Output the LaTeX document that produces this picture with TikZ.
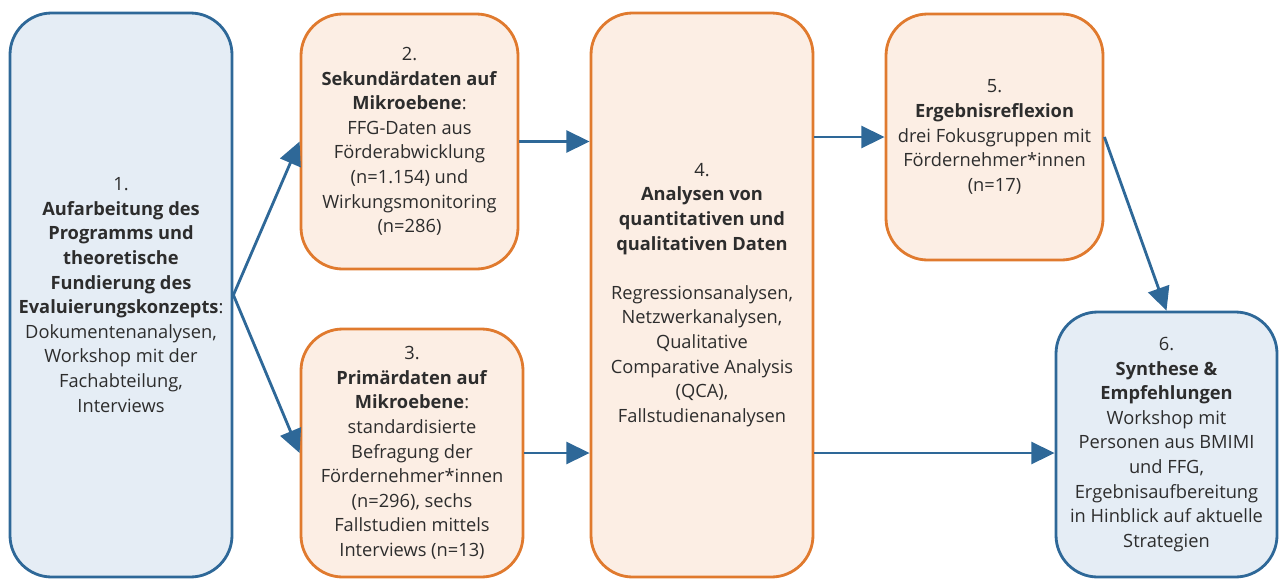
\documentclass[tikz,border=0pt]{standalone}
\usepackage{fontspec}
\setmainfont{Open Sans}
\usetikzlibrary{arrows.meta}

\definecolor{bluedraw}{RGB}{46,104,152}
\definecolor{bluefill}{RGB}{229,237,245}
\definecolor{orangedraw}{RGB}{224,122,46}
\definecolor{orangefill}{RGB}{252,238,228}
\definecolor{txt}{RGB}{45,45,45}

\begin{document}
\begin{tikzpicture}[
  font=\fontsize{15.6}{21}\selectfont,
  box/.style={draw, line width=2.4pt, rounded corners=1.25cm, align=center, text=txt, inner sep=2pt},
  bluebox/.style={box, draw=bluedraw, fill=bluefill},
  orangebox/.style={box, draw=orangedraw, fill=orangefill},
  arrow/.style={-{Triangle[length=7mm,width=6.6mm]}, line width=2.4pt, draw=bluedraw}
]

\useasboundingbox (0,0) rectangle (38.37,-17.34);

\node[bluebox, minimum width=6.66cm, minimum height=16.92cm] (prog) at (3.63,-8.85)
  {1.\\\textbf{Aufarbeitung des}\\\textbf{Programms und}\\\textbf{theoretische}\\\textbf{Fundierung des}\\\textbf{Evaluierungskonzepts}:\\Dokumentenanalysen,\\Workshop mit der\\Fachabteilung,\\Interviews};

\node[orangebox, minimum width=6.51cm, minimum height=7.65cm] (sek) at (12.285,-4.245)
  {2.\\\textbf{Sekundärdaten auf}\\\textbf{Mikroebene}:\\FFG-Daten aus\\Förderabwicklung\\(n=1.154) und\\Wirkungsmonitoring\\(n=286)};
\node[orangebox, minimum width=6.66cm, minimum height=7.44cm] (prim) at (12.36,-13.59)
  {3.\\\textbf{Primärdaten auf}\\\textbf{Mikroebene}:\\standardisierte\\Befragung der\\Fördernehmer*innen\\(n=296), sechs\\Fallstudien mittels\\Interviews (n=13)};

\node[orangebox, minimum width=6.66cm, minimum height=16.92cm] (ana) at (21.06,-8.85)
  {4.\\\textbf{Analysen von}\\\textbf{quantitativen und}\\\textbf{qualitativen Daten}\\[21pt]Regressionsanalysen,\\Netzwerkanalysen,\\Qualitative\\Comparative Analysis\\(QCA),\\Fallstudienanalysen};

\node[orangebox, minimum width=6.51cm, minimum height=7.38cm] (refl) at (29.835,-4.11)
  {5.\\\textbf{Ergebnisreflexion}\\drei Fokusgruppen mit\\Fördernehmer*innen\\(n=17)};
\node[bluebox, minimum width=6.63cm, minimum height=7.95cm] (syn) at (34.995,-13.335)
  {6.\\\textbf{Synthese \&}\\\textbf{Empfehlungen}\\Workshop mit\\Personen aus BMIMI\\und FFG,\\Ergebnisaufbereitung\\in Hinblick auf aktuelle\\Strategien};

\draw[arrow] (prog.east) -- (sek.west);
\draw[arrow] (prog.east) -- (prim.west);
\draw[arrow] (sek.east) -- (sek.east -| ana.west);
\draw[arrow] (prim.east) -- (prim.east -| ana.west);
\draw[arrow] (refl.west -| ana.east) -- (refl.west);
\draw[arrow] (prim.east -| ana.east) -- (prim.east -| syn.west);
\draw[arrow] (refl.east) -- (syn.north);

\end{tikzpicture}
\end{document}
